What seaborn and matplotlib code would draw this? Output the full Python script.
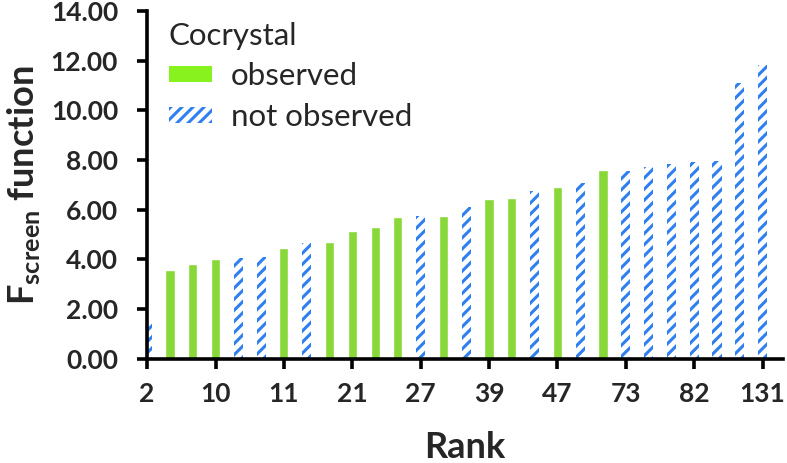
import pandas as pd
import matplotlib
matplotlib.use("Agg")
import matplotlib.pyplot as plt
import seaborn as sns
from matplotlib.patches import Patch

# one bar per co-former, sorted by F_screen; labels every third bar
values = [1.50, 3.56, 3.82, 4.02, 4.07, 4.09, 4.47, 4.65, 4.70, 5.15,
          5.30, 5.70, 5.75, 5.75, 6.12, 6.44, 6.48, 6.76, 6.93, 7.09,
          7.60, 7.58, 7.71, 7.86, 7.93, 7.96, 11.09, 11.83]
status = ['no', 'obs', 'obs', 'obs', 'no', 'no', 'obs', 'no', 'obs', 'obs',
          'obs', 'obs', 'no', 'obs', 'no', 'obs', 'obs', 'no', 'obs', 'no',
          'obs', 'no', 'no', 'no', 'no', 'no', 'no', 'no']
rank_labels = ['2', '10', '11', '21', '27', '39', '47', '73', '82', '131']

GREEN = '#88f21f'
BLUE = '#2f7ff0'

df = pd.DataFrame({
    'pos': [str(i) for i in range(len(values))],
    'value': values,
    'status': status,
})

sns.set_style('white')
plt.rcParams['font.family'] = ['Lato', 'DejaVu Sans']
plt.rcParams['mathtext.fontset'] = 'custom'
plt.rcParams['mathtext.rm'] = 'Lato'
plt.rcParams['mathtext.bf'] = 'Lato:bold'
plt.rcParams['hatch.linewidth'] = 2.2

fig = plt.figure(figsize=(7.87, 4.63), dpi=100)
ax = fig.add_axes([0.187, 0.225, 0.808, 0.751])

sns.barplot(data=df, x='pos', y='value', hue='status', hue_order=['obs', 'no'],
            order=df['pos'], palette={'obs': GREEN, 'no': BLUE},
            dodge=False, width=0.4, legend=False, ax=ax)

# not-observed bars: white with blue diagonal hatch
for bar in ax.containers[1]:
    bar.set_facecolor('white')
    bar.set_edgecolor(BLUE)
    bar.set_linewidth(0)
    bar.set_hatch('///')

ax.set_xlim(0, 27.9)
ax.set_ylim(0, 14)
ax.set_yticks(range(0, 15, 2))
ax.set_yticklabels(['{:.2f}'.format(v) for v in range(0, 15, 2)])
ax.set_xticks(range(0, len(values), 3))
ax.set_xticklabels(rank_labels)

for side in ['top', 'right']:
    ax.spines[side].set_visible(False)
for side in ['left', 'bottom']:
    ax.spines[side].set_linewidth(2.6)
    ax.spines[side].set_color('black')

ax.tick_params(axis='both', which='major', length=7, width=2.6, color='black',
               labelsize=19, direction='out', bottom=True, left=True)
for lab in ax.get_xticklabels() + ax.get_yticklabels():
    lab.set_fontweight('bold')
ax.tick_params(axis='x', pad=10)
ax.tick_params(axis='y', pad=14)

ax.set_xlabel('Rank', fontsize=26, fontweight='bold', labelpad=18)
ax.set_ylabel(r'$\mathbf{F}_{\mathbf{screen}}$ function', fontsize=26,
              fontweight='bold', labelpad=6)

handles = [Patch(facecolor=GREEN, edgecolor='none', label='observed'),
           Patch(facecolor='white', edgecolor=BLUE, linewidth=0, hatch='///',
                 label='not observed')]
leg = ax.legend(handles=handles, title='Cocrystal', loc='upper left',
                bbox_to_anchor=(-0.01, 1.05), frameon=False, fontsize=22.5,
                title_fontsize=22.5, handlelength=1.38, handleheight=0.42,
                labelspacing=0.4, handletextpad=0.6)
leg._legend_box.align = 'left'

fig.savefig('out.png', dpi=100)
